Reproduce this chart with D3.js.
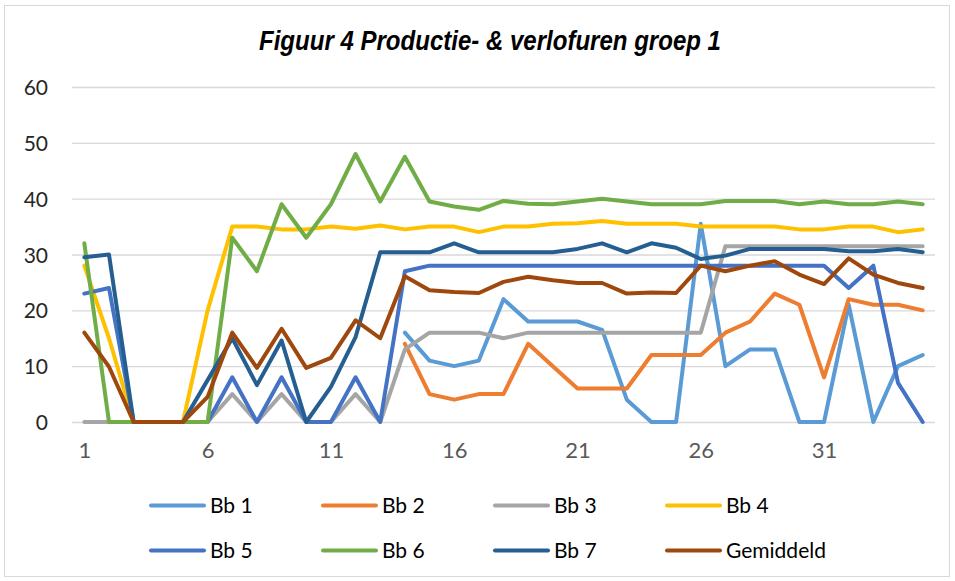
<!DOCTYPE html>
<html lang="nl">
<head>
<meta charset="UTF-8">
<title>Figuur 4</title>
<script src="https://d3js.org/d3.v7.min.js"></script>
<style>
    body { margin: 0; background: #fff; }
    .tick text { font-family: Lato, "Open Sans", sans-serif; }
    .yaxis .tick text { font-size: 21px; fill: #262626; }
    .xaxis .tick text { font-size: 22px; fill: #595959; }
    .grid line { stroke: #d9d9d9; stroke-width: 1.3px; }
    .legend text { font-family: Lato, "Open Sans", sans-serif; font-size: 21px; fill: #000; }
</style>
</head>
<body>
<svg id="chart" width="955" height="581"></svg>
<script>
    const days = d3.range(1, 36);
    const xTicks = [1, 6, 11, 16, 21, 26, 31];
    const yTicks = [0, 10, 20, 30, 40, 50, 60];

    // null = no hours registered yet
    const bb1 = [null, null, null, null, null, null, null, null, null, null, null, null, null, 16, 11, 10, 11, 22, 18, 18, 18, 16.5, 4, 0, 0, 35.5, 10, 13, 13, 0, 0, 21, 0, 10, 12];
    const bb2 = [null, null, null, null, null, null, null, null, null, null, null, null, null, 14, 5, 4, 5, 5, 14, 10, 6, 6, 6, 12, 12, 12, 16, 18, 23, 21, 8, 22, 21, 21, 20];
    const bb3 = [0, 0, 0, 0, 0, 0, 5, 0, 5, 0, 0, 5, 0, 13, 16, 16, 16, 15, 16, 16, 16, 16, 16, 16, 16, 16, 31.5, 31.5, 31.5, 31.5, 31.5, 31.5, 31.5, 31.5, 31.5];
    const bb4 = [28, 15, 0, 0, 0, 20, 35, 35, 34.5, 34.5, 35, 34.6, 35.2, 34.5, 35, 35, 34, 35, 35, 35.5, 35.6, 36, 35.5, 35.5, 35.5, 35, 35, 35, 35, 34.5, 34.5, 35, 35, 34, 34.5];
    const bb5 = [23, 24, 0, 0, 0, 0, 8, 0, 8, 0, 0, 8, 0, 27, 28, 28, 28, 28, 28, 28, 28, 28, 28, 28, 28, 28, 28, 28, 28, 28, 28, 24, 28, 7, 0];
    const bb6 = [32, 0, 0, 0, 0, 0, 33, 27, 39, 33, 39, 48, 39.5, 47.5, 39.5, 38.6, 38, 39.6, 39.1, 39, 39.5, 40, 39.5, 39, 39, 39, 39.6, 39.6, 39.6, 39, 39.5, 39, 39, 39.5, 39];
    const bb7 = [29.5, 30, 0, 0, 0, 7.5, 15, 6.6, 14.6, 0, 6.3, 15.2, 30.4, 30.4, 30.4, 32, 30.4, 30.4, 30.4, 30.4, 31, 32, 30.4, 32, 31.2, 29.2, 29.8, 31, 31, 31, 31, 30.6, 30.6, 31, 30.4];
    const gemiddeld = [16, 9.9, 0, 0, 0, 4.5, 16, 9.7, 16.7, 9.7, 11.5, 18.2, 15, 26.1, 23.6, 23.3, 23.1, 25.1, 26, 25.4, 24.9, 24.9, 23, 23.2, 23.1, 28, 27, 28, 28.8, 26.4, 24.7, 29.3, 26.4, 24.9, 24];

    const series = [
        { name: "Bb 1", values: bb1, color: "#5b9bd5" },
        { name: "Bb 2", values: bb2, color: "#ed7d31" },
        { name: "Bb 3", values: bb3, color: "#a5a5a5" },
        { name: "Bb 4", values: bb4, color: "#ffc000" },
        { name: "Bb 5", values: bb5, color: "#4472c4" },
        { name: "Bb 6", values: bb6, color: "#70ad47" },
        { name: "Bb 7", values: bb7, color: "#255e91" },
        { name: "Gemiddeld", values: gemiddeld, color: "#9e480e" }
    ];

    const svg = d3.select("#chart");

    // chart border
    svg.append("rect")
        .attr("x", 4.5).attr("y", 5.5)
        .attr("width", 945).attr("height", 571)
        .attr("fill", "#fff")
        .attr("stroke", "#d9d9d9");

    svg.append("text")
        .attr("x", 490).attr("y", 50)
        .attr("text-anchor", "middle")
        .attr("textLength", 462)
        .attr("lengthAdjust", "spacingAndGlyphs")
        .style("font-family", "'Liberation Sans', Arial, sans-serif")
        .style("font-size", "27px")
        .style("font-weight", "bold")
        .style("font-style", "italic")
        .text("Figuur 4 Productie- & verlofuren groep 1");

    const left = 72, right = 935;
    const x = d3.scalePoint().domain(days).range([left, right]).padding(0.5);
    const y = d3.scaleLinear().domain([0, 60]).range([422, 87]);

    svg.append("g")
        .attr("class", "grid yaxis")
        .attr("transform", `translate(${left},0)`)
        .call(d3.axisLeft(y).tickValues(yTicks).tickSize(-(right - left)).tickPadding(24))
        .call(g => g.select(".domain").remove())
        .call(g => g.selectAll(".tick text").attr("dy", "0.36em"));

    svg.append("g")
        .attr("class", "xaxis")
        .attr("transform", "translate(0,422)")
        .call(d3.axisBottom(x).tickValues(xTicks).tickSize(0).tickPadding(20))
        .call(g => g.select(".domain").remove());

    const line = d3.line()
        .defined(d => d !== null)
        .x((d, i) => x(days[i]))
        .y(d => y(d));

    svg.append("g")
        .selectAll("path")
        .data(series)
        .join("path")
        .attr("d", d => line(d.values))
        .attr("fill", "none")
        .attr("stroke", d => d.color)
        .attr("stroke-width", 4)
        .attr("stroke-linejoin", "round")
        .attr("stroke-linecap", "round");

    const legend = svg.append("g").attr("class", "legend")
        .selectAll("g")
        .data(series)
        .join("g")
        .attr("transform", (d, i) => `translate(${151 + (i % 4) * 172},${505.5 + Math.floor(i / 4) * 45})`);

    legend.append("line")
        .attr("x1", 0).attr("x2", 53)
        .attr("stroke", d => d.color)
        .attr("stroke-width", 4)
        .attr("stroke-linecap", "round");

    legend.append("text")
        .attr("x", 59).attr("dy", "0.36em")
        .text(d => d.name);
</script>
</body>
</html>
